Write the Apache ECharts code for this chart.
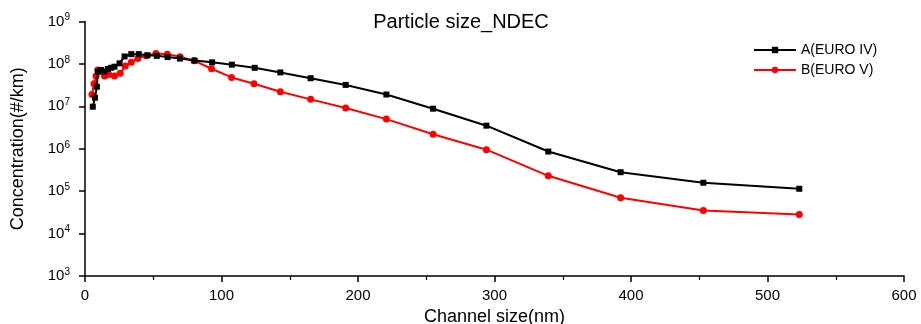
<!DOCTYPE html>
<html>
<head>
<meta charset="utf-8">
<script src="https://cdn.jsdelivr.net/npm/echarts@6/dist/echarts.min.js"></script>
<style>
  html, body { margin: 0; padding: 0; background: #fff; }
  #chart { width: 921px; height: 324px; }
</style>
</head>
<body>
<div id="chart"></div>
<script>
// channel size (nm) and concentration (#/km)
const sizeA = [5.7, 7.3, 8.7, 9.4, 11.7, 14.3, 16.7, 19.2, 21.6, 25.3, 29, 33.9, 39.4, 45.8,
  52.6, 60.5, 69.6, 80.3, 93.1, 107.6, 124.3, 143.1, 165.3, 191, 220.8, 255, 294.1,
  339.4, 392.4, 453, 523.3];
const concA = [9.8e6, 1.6e7, 2.9e7, 6.6e7, 7.2e7, 6.6e7, 7.6e7, 8.1e7, 8.6e7, 1.03e8, 1.5e8,
  1.7e8, 1.7e8, 1.6e8, 1.55e8, 1.45e8, 1.34e8, 1.2e8, 1.09e8, 9.6e7, 8.1e7, 6.3e7, 4.6e7,
  3.2e7, 1.9e7, 8.8e6, 3.5e6, 8.6e5, 2.8e5, 1.58e5, 1.14e5];

const sizeB = [5.1, 6.6, 8.1, 9.4, 11.9, 14.3, 17.4, 21.6, 25.8, 29.5, 33.9, 38.7, 44.9, 52,
  60.3, 69.6, 79.9, 92.7, 107.4, 123.8, 143.1, 165.3, 191, 220.8, 255, 294.1, 339.4,
  392.4, 453, 523.3];
const concB = [1.9e7, 3.4e7, 5.2e7, 7.2e7, 6.6e7, 5.2e7, 5.6e7, 5.2e7, 6.0e7, 8.9e7, 1.09e8,
  1.35e8, 1.56e8, 1.76e8, 1.7e8, 1.48e8, 1.19e8, 7.7e7, 4.8e7, 3.4e7, 2.2e7, 1.46e7,
  9.1e6, 5.0e6, 2.2e6, 9.5e5, 2.3e5, 7.0e4, 3.5e4, 2.8e4];

const seriesNames = ["A(EURO IV)", "B(EURO V)"];
const xTicks = [0, 600, 100];      // min, max, interval
const yRange = [1e3, 1e9];

const zip = (xs, ys) => xs.map((x, i) => [x, ys[i]]);
const FONT = "Liberation Sans, Arial, sans-serif";

const chart = echarts.init(document.getElementById("chart"));
chart.setOption({
  animation: false,
  textStyle: { fontFamily: FONT, color: "#000" },
  title: {
    text: "Particle size_NDEC",
    left: 456,
    textAlign: "center",
    top: 7,
    textStyle: { fontFamily: FONT, fontSize: 20, fontWeight: "normal", color: "#000" },
  },
  legend: {
    orient: "vertical",
    left: 748,
    top: 38,
    itemWidth: 42,
    itemHeight: 8,
    itemGap: 6,
    textStyle: { fontFamily: FONT, fontSize: 14, color: "#000" },
    data: seriesNames,
  },
  grid: { left: 85, right: 17, top: 21.5, bottom: 48, outerBoundsMode: "none", containLabel: false },
  xAxis: {
    type: "value",
    min: xTicks[0],
    max: xTicks[1],
    interval: xTicks[2],
    name: "Channel size(nm)",
    nameLocation: "middle",
    nameGap: 30,
    nameTextStyle: { fontFamily: FONT, fontSize: 18, color: "#000" },
    axisLine: { lineStyle: { color: "#000", width: 1.5 } },
    axisTick: { show: true, inside: false, length: 6, lineStyle: { color: "#000", width: 1.5 } },
    minorTick: { show: true, splitNumber: 2, length: 4, lineStyle: { color: "#000", width: 1.2 } },
    axisLabel: { fontFamily: FONT, fontSize: 15, color: "#000", margin: 12 },
    splitLine: { show: false },
  },
  yAxis: {
    type: "log",
    logBase: 10,
    min: yRange[0],
    max: yRange[1],
    name: "Concentration(#/km)",
    nameLocation: "middle",
    nameGap: 58,
    nameTextStyle: { fontFamily: FONT, fontSize: 18, color: "#000" },
    axisLine: { show: true, lineStyle: { color: "#000", width: 1.5 } },
    axisTick: { show: true, inside: false, length: 6, lineStyle: { color: "#000", width: 1.5 } },
    axisLabel: {
      margin: 15,
      formatter: (v) => "{b|10}{s|" + Math.round(Math.log10(v)) + "}",
      rich: {
        b: { fontFamily: FONT, fontSize: 15, color: "#000", lineHeight: 18 },
        s: { fontFamily: FONT, fontSize: 10, color: "#000", verticalAlign: "top", lineHeight: 18 },
      },
    },
    splitLine: { show: false },
  },
  series: [
    {
      name: seriesNames[0],
      type: "line",
      data: zip(sizeA, concA),
      symbol: "rect",
      symbolSize: 6,
      itemStyle: { color: "#000" },
      lineStyle: { color: "#000", width: 2 },
      z: 3,
    },
    {
      name: seriesNames[1],
      type: "line",
      data: zip(sizeB, concB),
      symbol: "circle",
      symbolSize: 7,
      itemStyle: { color: "#ff0000" },
      lineStyle: { color: "#ff0000", width: 2 },
      z: 2,
    },
  ],
});
</script>
</body>
</html>
